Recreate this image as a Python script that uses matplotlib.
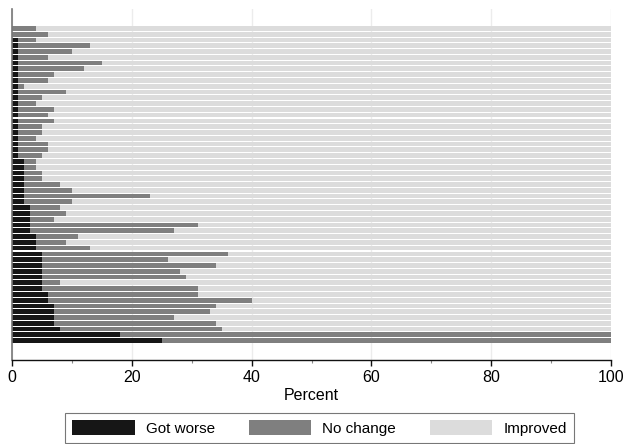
import matplotlib
matplotlib.use("Agg")
import matplotlib.pyplot as plt
import numpy as np

plt.rcParams['font.family'] = ['Liberation Sans', 'DejaVu Sans']

# Percent of respondents per item (top bar first)
got_worse = [0, 0, 1, 1, 1, 1, 1, 1, 1, 1, 1, 1, 1, 1, 1, 1, 1, 1, 1, 1, 1, 1, 1,
             2, 2, 2, 2, 2, 2, 2, 2, 3, 3, 3, 3, 3, 4, 4, 4, 5, 5, 5, 5, 5, 5, 5,
             6, 6, 7, 7, 7, 7, 8, 18, 25]
no_change = [4, 6, 3, 12, 9, 5, 14, 11, 6, 5, 1, 8, 4, 3, 6, 5, 6, 4, 4, 3, 5, 5, 4,
             2, 2, 3, 3, 6, 8, 21, 8, 5, 6, 4, 28, 24, 7, 5, 9, 31, 21, 29, 23, 24, 3, 26,
             25, 34, 27, 26, 20, 27, 27, 82, 75]
improved = [96, 94, 96, 87, 90, 94, 85, 88, 93, 94, 98, 91, 95, 96, 93, 94, 93, 95, 95, 96, 94, 94, 95,
            96, 96, 95, 95, 92, 90, 77, 90, 92, 91, 93, 69, 73, 89, 91, 87, 64, 74, 66, 72, 71, 92, 69,
            69, 60, 66, 67, 73, 66, 65, 0, 0]
series_labels = ["Got worse", "No change", "Improved"]
colors = ["#161616", "#7f7f7f", "#dcdcdc"]
x_ticks = [0, 20, 40, 60, 80, 100]

fig = plt.figure(figsize=(6.25, 4.44), dpi=100)
ax = fig.add_axes([12/625, (444-360)/444, (611-12)/625, (360-9)/444])

y = np.arange(len(got_worse))
w = np.array(got_worse, dtype=float)
n = np.array(no_change, dtype=float)
im = np.array(improved, dtype=float)
h = 0.82
b1 = ax.barh(y, w, height=h, color=colors[0], linewidth=0, zorder=2, label=series_labels[0])
b2 = ax.barh(y, n, left=w, height=h, color=colors[1], linewidth=0, zorder=2, label=series_labels[1])
b3 = ax.barh(y, im, left=w + n, height=h, color=colors[2], linewidth=0, zorder=2, label=series_labels[2])

ax.set_ylim(len(y) - 1 + 3.35, -3.35)
ax.set_xlim(0, 100)
ax.set_xticks(x_ticks)
ax.set_xticks([10, 30, 50, 70, 90], minor=True)
ax.set_yticks([])
ax.grid(axis='x', which='major', color='#ececec', linewidth=1.0, zorder=0)
ax.set_axisbelow(True)

for s in ['top', 'right']:
    ax.spines[s].set_visible(False)
ax.spines['left'].set_color('#777777')
ax.spines['left'].set_linewidth(1.2)
ax.spines['bottom'].set_color('#111111')
ax.spines['bottom'].set_linewidth(1.0)

ax.tick_params(axis='x', which='major', direction='out', length=4.3, width=1.0,
               color='#111111', labelsize=11.5, pad=3)
ax.tick_params(axis='x', which='minor', direction='out', length=2.2, width=0.8,
               color='#888888')
ax.set_xlabel("Percent", fontsize=11.5, labelpad=2)

leg = fig.legend(handles=[b1, b2, b3], labels=series_labels, ncol=3,
                 loc='upper center', bbox_to_anchor=(319.5/625, (444-413)/444),
                 bbox_transform=fig.transFigure, fontsize=11, frameon=True,
                 fancybox=False, edgecolor='#555555', handlelength=4.1,
                 handleheight=1.15, handletextpad=0.72, columnspacing=2.2,
                 borderpad=0.45, borderaxespad=0)
leg.get_frame().set_linewidth(0.8)

fig.savefig("out.png", dpi=100)
